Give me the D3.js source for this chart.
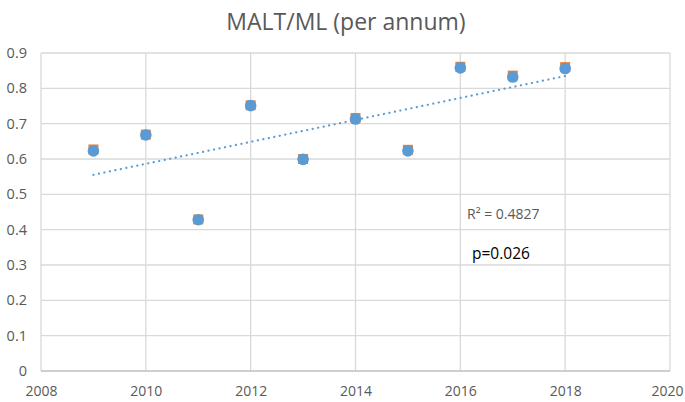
<!DOCTYPE html>
<html><head><meta charset="utf-8">
<script src="https://cdn.jsdelivr.net/npm/d3@7"></script>
<style>body{margin:0;background:#fff}svg{display:block}</style>
</head><body>
<script>
const years = [2009,2010,2011,2012,2013,2014,2015,2016,2017,2018];
const seriesA = [0.627,0.669,0.429,0.752,0.600,0.716,0.626,0.861,0.836,0.860]; // orange squares
const seriesB = [0.623,0.668,0.428,0.751,0.599,0.713,0.623,0.858,0.832,0.856]; // blue circles
const xTicks = [2008,2010,2012,2014,2016,2018,2020];
const yTicks = [0,0.1,0.2,0.3,0.4,0.5,0.6,0.7,0.8,0.9];
const title = "MALT/ML (per annum)";
const r2Label = "R² = 0.4827";
const pLabel = "p=0.026";

const W=685,H=402;
const svg=d3.select("body").append("svg").attr("width",W).attr("height",H);
const font="Open Sans, Liberation Sans, sans-serif";
const x=d3.scaleLinear().domain([2008,2020]).range([41,670]);
const y=d3.scaleLinear().domain([0,0.9]).range([371,53]);

// gridlines
svg.append("g").selectAll("line").data(yTicks.filter(d=>d>0)).join("line")
  .attr("x1",x(2008)).attr("x2",x(2020)).attr("y1",d=>y(d)).attr("y2",d=>y(d))
  .attr("stroke","#d9d9d9").attr("stroke-width",1.3);
svg.append("g").selectAll("line").data(xTicks).join("line")
  .attr("x1",d=>x(d)).attr("x2",d=>x(d)).attr("y1",y(0)).attr("y2",y(0.9))
  .attr("stroke","#d9d9d9").attr("stroke-width",1.3);
// x axis line
svg.append("line").attr("x1",x(2008)).attr("x2",x(2020)).attr("y1",y(0)).attr("y2",y(0))
  .attr("stroke","#bfbfbf").attr("stroke-width",1.3);

// axes labels
const xa=svg.append("g").attr("transform",`translate(0,${y(0)})`)
  .call(d3.axisBottom(x).tickValues(xTicks).tickFormat(d3.format("d")).tickSize(0).tickPadding(15));
xa.select(".domain").remove();
xa.selectAll("text").attr("font-family",font).attr("font-size",14).attr("fill","#595959");
xa.selectAll("text").filter(d=>d===2020).attr("text-anchor","end").attr("x",W-2-x(2020));
const ya=svg.append("g").attr("transform",`translate(${x(2008)},0)`)
  .call(d3.axisLeft(y).tickValues(yTicks).tickFormat(d=>d===0?"0":d3.format(".1f")(d)).tickSize(0).tickPadding(14));
ya.select(".domain").remove();
ya.selectAll("text").attr("font-family",font).attr("font-size",14.5).attr("fill","#595959");

// trendline (least squares on blue series)
const n=years.length, mx=d3.mean(years), my=d3.mean(seriesB);
const slope=d3.sum(years.map((v,i)=>(v-mx)*(seriesB[i]-my)))/d3.sum(years.map(v=>(v-mx)*(v-mx)));
const icpt=my-slope*mx;
svg.append("line").attr("x1",x(years[0])).attr("y1",y(icpt+slope*years[0]))
  .attr("x2",x(years[n-1])).attr("y2",y(icpt+slope*years[n-1]))
  .attr("stroke","#5b9bd5").attr("stroke-width",2.2).attr("stroke-dasharray","0.1 5.5").attr("stroke-linecap","round");

// squares
svg.append("g").selectAll("rect").data(years).join("rect")
  .attr("x",(d,i)=>x(d)-5).attr("y",(d,i)=>y(seriesA[i])-5).attr("width",10).attr("height",10)
  .attr("fill","#ed7d31");
// circles
svg.append("g").selectAll("circle").data(years).join("circle")
  .attr("cx",d=>x(d)).attr("cy",(d,i)=>y(seriesB[i])).attr("r",5.8).attr("fill","#5b9bd5");

// title
svg.append("text").attr("x",346).attr("y",30).attr("text-anchor","middle")
  .attr("font-family",font).attr("font-size",23).attr("fill","#595959").text(title);
// annotations
svg.append("text").attr("x",467).attr("y",219).attr("font-family",font).attr("font-size",14)
  .attr("fill","#595959").text(r2Label);
svg.append("text").attr("x",472).attr("y",259).attr("font-family",font).attr("font-size",15.5)
  .attr("fill","#000").text(pLabel);
</script>
</body></html>
